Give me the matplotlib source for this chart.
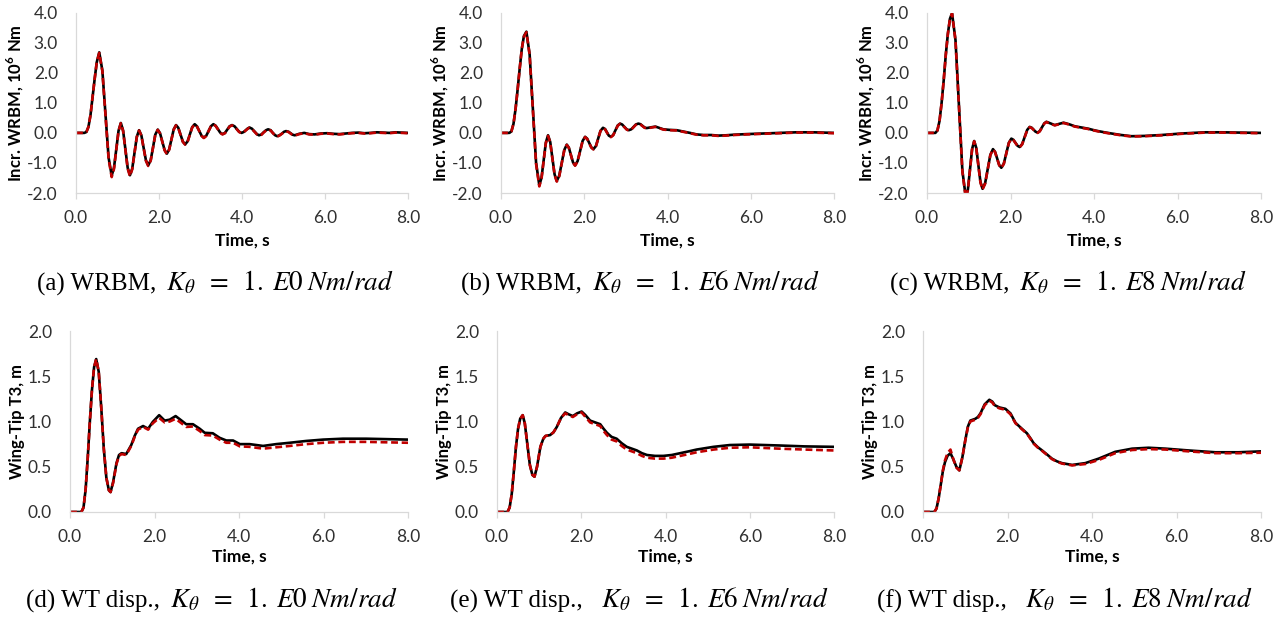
import matplotlib
matplotlib.use("Agg")
import matplotlib.pyplot as plt
from matplotlib.offsetbox import AnnotationBbox, HPacker, TextArea
from matplotlib.ticker import FormatStrFormatter, MultipleLocator

# ---------------- data ----------------

# (a) WRBM, K = 1.E0
TA = [0.0, 0.2, 0.25, 0.3, 0.35, 0.4, 0.45, 0.5, 0.56, 0.635, 0.71, 0.785, 0.86, 0.915, 0.97, 1.025,
      1.08, 1.135, 1.19, 1.245, 1.30, 1.355, 1.41, 1.465, 1.52, 1.575, 1.63, 1.685, 1.74, 1.8, 1.855,
      1.91, 1.97, 2.025, 2.08, 2.135, 2.19, 2.245, 2.3, 2.355, 2.41, 2.465, 2.52, 2.575, 2.63, 2.69,
      2.745, 2.8, 2.86, 2.915, 2.97, 3.025, 3.08, 3.14, 3.195, 3.25, 3.31, 3.365, 3.42, 3.475, 3.53,
      3.59, 3.645, 3.70, 3.76, 3.82, 3.875, 3.93, 3.99, 4.04, 4.09, 4.14, 4.18, 4.24, 4.3, 4.36, 4.41,
      4.47, 4.52, 4.58, 4.63, 4.69, 4.74, 4.8, 4.85, 4.9, 4.96, 5.01, 5.06, 5.12, 5.17, 5.22, 5.27,
      5.38, 5.5, 5.62, 5.75, 5.9, 6.05, 6.2, 6.35, 6.5, 6.65, 6.8, 6.95, 7.1, 7.25, 7.4, 7.55, 7.7,
      7.85, 8.0]
A_BLACK = [0.0, 0.0, 0.03, 0.2, 0.6, 1.2, 1.8, 2.35, 2.68, 2.08, 0.63, -0.82, -1.42, -1.16, -0.55, 0.07,
           0.33, 0.08, -0.54, -1.16, -1.41, -1.19, -0.66, -0.13, 0.09, -0.08, -0.5, -0.91, -1.08, -0.91, -0.49,
           -0.06, 0.11, -0.01, -0.29, -0.57, -0.69, -0.55, -0.215, 0.12, 0.26, 0.17, -0.06, -0.29, -0.38, -0.28,
           -0.045, 0.19, 0.29, 0.22, 0.065, -0.09, -0.16, -0.09, 0.065, 0.22, 0.29, 0.24, 0.125, 0.01, -0.04,
           0.0, 0.11, 0.22, 0.26, 0.22, 0.13, 0.04, 0.0, 0.03, 0.09, 0.15, 0.18, 0.14, 0.05, -0.04, -0.08,
           -0.05, 0.02, 0.09, 0.12, 0.09, 0.005, -0.08, -0.11, -0.08, -0.025, 0.035, 0.06, 0.04, -0.01, -0.06, -0.08,
           -0.03, 0.0, -0.04, -0.05, -0.02, -0.01, -0.03, -0.04, -0.02, 0.0, 0.01, -0.01, 0.0, 0.02, 0.01, 0.0, 0.02,
           0.01, 0.0]
A_RED = [0.0, 0.0, 0.03, 0.2, 0.6, 1.2, 1.8, 2.35, 2.66, 2.06, 0.6, -0.86, -1.47, -1.2, -0.57, 0.06,
         0.32, 0.06, -0.56, -1.19, -1.44, -1.21, -0.67, -0.14, 0.08, -0.09, -0.51, -0.93, -1.1, -0.92, -0.5,
         -0.07, 0.1, -0.02, -0.3, -0.58, -0.71, -0.56, -0.22, 0.11, 0.25, 0.16, -0.07, -0.3, -0.39, -0.29,
         -0.05, 0.18, 0.28, 0.21, 0.06, -0.1, -0.17, -0.1, 0.06, 0.21, 0.28, 0.23, 0.12, 0.0, -0.05,
         -0.01, 0.1, 0.21, 0.25, 0.21, 0.12, 0.03, -0.01, 0.02, 0.08, 0.14, 0.17, 0.13, 0.04, -0.05, -0.09,
         -0.06, 0.01, 0.08, 0.11, 0.08, 0.0, -0.09, -0.12, -0.09, -0.03, 0.03, 0.05, 0.03, -0.02, -0.07, -0.09,
         -0.04, -0.01, -0.05, -0.06, -0.03, -0.02, -0.04, -0.05, -0.03, -0.01, 0.0, -0.02, -0.01, 0.01, 0.0, -0.01,
         0.01, 0.0, -0.01]

# (b) WRBM, K = 1.E6
TB = [0.0, 0.2, 0.25, 0.3, 0.35, 0.4, 0.45, 0.5, 0.55, 0.61, 0.6875, 0.765, 0.8425, 0.92, 0.9725, 1.025,
      1.0775, 1.13, 1.1825, 1.235, 1.2875, 1.34, 1.40, 1.46, 1.52, 1.58, 1.63, 1.68, 1.73, 1.78, 1.84,
      1.90, 1.96, 2.02, 2.07, 2.12, 2.17, 2.22, 2.28, 2.335, 2.39, 2.45, 2.5, 2.545, 2.59, 2.64, 2.695,
      2.75, 2.805, 2.86, 2.91, 2.965, 3.02, 3.07, 3.13, 3.185, 3.24, 3.30, 3.35, 3.40, 3.45, 3.5, 3.6,
      3.71, 3.9, 4.05, 4.22, 4.4, 4.54, 4.7, 4.86, 5.05, 5.22, 5.4, 5.6, 5.9, 6.3, 6.7, 7.1, 7.5, 8.0]
B_BLACK = [0.0, 0.0, 0.05, 0.3, 0.8, 1.45, 2.15, 2.8, 3.22, 3.37, 2.62, 0.82, -0.99, -1.74, -1.50, -0.91,
           -0.32, -0.08, -0.30, -0.84, -1.38, -1.6, -1.42, -0.995, -0.57, -0.39, -0.49, -0.735, -0.98, -1.08, -0.94,
           -0.605, -0.27, -0.13, -0.19, -0.335, -0.48, -0.54, -0.44, -0.185, 0.07, 0.17, 0.13, 0.02, -0.09, -0.13, -0.07,
           0.09, 0.25, 0.31, 0.28, 0.2, 0.12, 0.09, 0.12, 0.2, 0.28, 0.31, 0.29, 0.235, 0.18, 0.16, 0.185,
           0.21, 0.12, 0.1, 0.09, 0.04, 0.0, -0.05, -0.07, -0.07, -0.09, -0.08, -0.06, -0.04, -0.02, 0.0, 0.02, 0.02, 0.0]
B_RED = [0.0, 0.0, 0.05, 0.3, 0.8, 1.45, 2.15, 2.8, 3.2, 3.35, 2.6, 0.78, -1.03, -1.78, -1.53, -0.93,
         -0.34, -0.1, -0.32, -0.86, -1.4, -1.62, -1.44, -1.01, -0.58, -0.4, -0.5, -0.745, -0.99, -1.09, -0.95,
         -0.61, -0.28, -0.14, -0.2, -0.345, -0.49, -0.55, -0.45, -0.19, 0.06, 0.16, 0.12, 0.01, -0.1, -0.14, -0.08,
         0.08, 0.24, 0.3, 0.27, 0.19, 0.11, 0.08, 0.11, 0.19, 0.27, 0.3, 0.28, 0.225, 0.17, 0.15, 0.175,
         0.2, 0.11, 0.09, 0.08, 0.03, -0.01, -0.06, -0.08, -0.08, -0.1, -0.09, -0.07, -0.05, -0.03, -0.01, 0.01, 0.01, -0.01]

# (c) WRBM, K = 1.E8
TC = [0.0, 0.2, 0.25, 0.3, 0.35, 0.4, 0.45, 0.5, 0.55, 0.6, 0.6825, 0.765, 0.8475, 0.93, 0.98, 1.03,
      1.08, 1.13, 1.18, 1.23, 1.28, 1.33, 1.3925, 1.455, 1.5175, 1.58, 1.63, 1.68, 1.73, 1.78, 1.84,
      1.90, 1.96, 2.02, 2.07, 2.12, 2.17, 2.22, 2.28, 2.34, 2.40, 2.46, 2.51, 2.555, 2.60, 2.65, 2.70,
      2.755, 2.81, 2.86, 2.96, 3.06, 3.165, 3.27, 3.4, 3.54, 3.7, 3.86, 4.0, 4.1, 4.25, 4.42, 4.65,
      4.9, 5.22, 5.62, 6.1, 6.66, 7.06, 7.5, 8.0]
C_BLACK = [0.0, 0.0, 0.08, 0.4, 1.0, 1.75, 2.6, 3.3, 3.8, 3.98, 3.09, 0.915, -1.26, -2.15, -1.88, -1.21,
           -0.54, -0.27, -0.5, -1.065, -1.63, -1.86, -1.67, -1.2, -0.73, -0.54, -0.63, -0.85, -1.07, -1.16, -1.02,
           -0.675, -0.33, -0.19, -0.23, -0.33, -0.43, -0.47, -0.37, -0.135, 0.1, 0.2, 0.17, 0.105, 0.04, 0.01, 0.06,
           0.19, 0.32, 0.37, 0.315, 0.26, 0.30, 0.34, 0.29, 0.22, 0.18, 0.14, 0.09, 0.06, 0.02, -0.02, -0.07,
           -0.11, -0.1, -0.07, -0.02, 0.02, 0.02, 0.01, 0.0]
C_RED = [0.0, 0.0, 0.08, 0.4, 1.0, 1.75, 2.6, 3.3, 3.8, 3.97, 3.07, 0.89, -1.29, -2.18, -1.9, -1.22,
         -0.55, -0.28, -0.51, -1.08, -1.65, -1.88, -1.69, -1.21, -0.74, -0.55, -0.64, -0.86, -1.08, -1.17, -1.03,
         -0.68, -0.34, -0.2, -0.24, -0.34, -0.44, -0.48, -0.38, -0.14, 0.09, 0.19, 0.16, 0.1, 0.03, 0.0, 0.05,
         0.18, 0.31, 0.36, 0.305, 0.25, 0.29, 0.33, 0.28, 0.21, 0.17, 0.13, 0.08, 0.05, 0.01, -0.03, -0.08,
         -0.12, -0.11, -0.08, -0.03, 0.01, 0.01, 0.0, -0.01]

# (d) WT disp., K = 1.E0
TD = [0.0, 0.27, 0.32, 0.37, 0.42, 0.47, 0.52, 0.57, 0.62, 0.68, 0.74, 0.80, 0.86, 0.92, 0.96, 1.02,
      1.10, 1.16, 1.22, 1.33, 1.45, 1.53, 1.61, 1.73, 1.85, 1.96, 2.11, 2.24, 2.36, 2.5, 2.64, 2.75,
      2.91, 3.07, 3.19, 3.38, 3.54, 3.70, 3.86, 4.02, 4.25, 4.57, 4.88, 5.2, 5.59, 5.99, 6.46, 7.01,
      7.5, 8.0]
D_BLACK = [0.0, 0.0, 0.05, 0.25, 0.6, 1.0, 1.35, 1.6, 1.69, 1.55, 1.15, 0.7, 0.38, 0.24, 0.22, 0.33,
           0.54, 0.63, 0.65, 0.64, 0.74, 0.84, 0.92, 0.95, 0.92, 0.996, 1.07, 1.01, 1.02, 1.06, 1.01, 0.97,
           0.97, 0.92, 0.875, 0.87, 0.82, 0.79, 0.79, 0.75, 0.75, 0.73, 0.75, 0.765, 0.785, 0.80, 0.81, 0.81,
           0.805, 0.80]
D_RED = [0.0, 0.0, 0.05, 0.25, 0.6, 1.0, 1.35, 1.6, 1.69, 1.55, 1.15, 0.7, 0.38, 0.24, 0.22, 0.32,
         0.53, 0.62, 0.64, 0.63, 0.73, 0.83, 0.91, 0.94, 0.91, 0.98, 1.04, 0.99, 1.0, 1.03, 0.98, 0.94,
         0.945, 0.895, 0.85, 0.845, 0.80, 0.765, 0.765, 0.725, 0.72, 0.70, 0.715, 0.73, 0.75, 0.765, 0.775, 0.775,
         0.77, 0.765]

# (e) WT disp., K = 1.E6
TE = [0.0, 0.25, 0.3, 0.35, 0.40, 0.45, 0.50, 0.55, 0.61, 0.66, 0.72, 0.78, 0.84, 0.89, 0.95, 1.03,
      1.1, 1.15, 1.26, 1.34, 1.42, 1.52, 1.62, 1.7, 1.8, 1.9, 2.01, 2.1, 2.21, 2.33, 2.45, 2.53,
      2.61, 2.72, 2.84, 2.96, 3.08, 3.2, 3.32, 3.44, 3.56, 3.75, 3.95, 4.15, 4.35, 4.55, 4.74, 5.14,
      5.53, 6.0, 6.7, 7.3, 8.0]
E_BLACK = [0.0, 0.0, 0.05, 0.2, 0.45, 0.72, 0.92, 1.03, 1.07, 0.98, 0.75, 0.52, 0.41, 0.39, 0.5, 0.72,
           0.81, 0.84, 0.85, 0.88, 0.94, 1.04, 1.10, 1.08, 1.06, 1.09, 1.11, 1.07, 1.01, 0.99, 0.97, 0.92,
           0.875, 0.83, 0.81, 0.76, 0.72, 0.70, 0.68, 0.65, 0.63, 0.62, 0.62, 0.63, 0.65, 0.67, 0.69, 0.72,
           0.74, 0.745, 0.735, 0.725, 0.72]
E_RED = [0.0, 0.0, 0.05, 0.2, 0.45, 0.72, 0.92, 1.03, 1.07, 0.98, 0.75, 0.52, 0.41, 0.39, 0.5, 0.72,
         0.81, 0.84, 0.85, 0.88, 0.94, 1.04, 1.09, 1.07, 1.05, 1.08, 1.10, 1.05, 0.99, 0.97, 0.95, 0.895,
         0.85, 0.80, 0.78, 0.73, 0.69, 0.67, 0.65, 0.62, 0.60, 0.59, 0.59, 0.60, 0.62, 0.64, 0.66, 0.69,
         0.71, 0.715, 0.70, 0.69, 0.68]

# (f) WT disp., K = 1.E8
TF = [0.0, 0.27, 0.32, 0.37, 0.42, 0.47, 0.52, 0.58, 0.65, 0.72, 0.79, 0.86, 0.93, 1.0, 1.06, 1.12,
      1.24, 1.30, 1.36, 1.46, 1.57, 1.64, 1.70, 1.81, 1.95, 2.07, 2.19, 2.34, 2.46, 2.55, 2.62, 2.72,
      2.82, 2.95, 3.05, 3.17, 3.29, 3.53, 3.84, 4.16, 4.55, 4.95, 5.34, 5.74, 6.29, 6.92, 7.47, 8.0]
F_BLACK = [0.0, 0.0, 0.04, 0.15, 0.3, 0.45, 0.55, 0.62, 0.65, 0.58, 0.5, 0.46, 0.6, 0.79, 0.94, 1.01,
           1.03, 1.05, 1.09, 1.19, 1.24, 1.22, 1.18, 1.155, 1.14, 1.09, 0.985, 0.92, 0.87, 0.81, 0.76, 0.715,
           0.68, 0.63, 0.59, 0.56, 0.54, 0.52, 0.54, 0.59, 0.665, 0.70, 0.71, 0.70, 0.68, 0.66, 0.66, 0.67]
F_RED = [0.0, 0.0, 0.04, 0.15, 0.3, 0.46, 0.57, 0.65, 0.69, 0.58, 0.49, 0.46, 0.6, 0.79, 0.93, 1.0,
         1.02, 1.04, 1.08, 1.18, 1.23, 1.21, 1.17, 1.145, 1.13, 1.08, 0.98, 0.915, 0.865, 0.805, 0.755, 0.71,
         0.675, 0.625, 0.585, 0.555, 0.535, 0.515, 0.53, 0.575, 0.65, 0.685, 0.695, 0.69, 0.67, 0.65, 0.65, 0.655]

# captions: plain (Times) part and math (italic) part
CAPTION_TEXT = ["(a) WRBM,", "(b) WRBM,", "(c) WRBM,", "(d) WT disp.,", "(e) WT disp.,", "(f) WT disp.,"]
CAPTION_MATH = [
    r"$K_\theta\;\;=\;\;1.\;E0\;Nm/rad$",
    r"$K_\theta\;\;=\;\;1.\;E6\;Nm/rad$",
    r"$K_\theta\;\;=\;\;1.\;E8\;Nm/rad$",
    r"$K_\theta\;\;=\;\;1.\;E0\;Nm/rad$",
    r"$K_\theta\;\;=\;\;1.\;E6\;Nm/rad$",
    r"$K_\theta\;\;=\;\;1.\;E8\;Nm/rad$",
]
CAPTION_SEP = [7, 7, 7, 7, 13, 13]
YLABEL_TOP = r"Incr. WRBM, 10$^{\mathbf{6}}$ Nm"
YLABEL_BOTTOM = "Wing-Tip T3, m"
XLABEL = "Time, s"

# ---------------- style ----------------
plt.rcParams["font.family"] = ["Lato", "DejaVu Sans"]
plt.rcParams["mathtext.fontset"] = "custom"
plt.rcParams["mathtext.rm"] = "Lato"
plt.rcParams["mathtext.bf"] = "Lato:bold"

TICK_COLOR = "#303030"
SPINE_COLOR = "#d9d9d9"
BLACK = "#000000"
RED = "#c00000"

fig = plt.figure(figsize=(12.85, 6.18), dpi=100)

# axes boxes in figure pixels: left, right, top, bottom
BOXES = [
    (76, 408, 12.7, 193), (501, 834, 12.7, 193), (927, 1261, 12.7, 193),
    (70, 408, 331, 512), (497, 834, 331, 512), (923, 1261, 331, 512),
]
CAPTION_POS = [(215, 283), (640, 283), (1068, 283), (212, 600), (639, 600), (1065, 600)]

series = [
    (TA, A_BLACK, A_RED), (TB, B_BLACK, B_RED), (TC, C_BLACK, C_RED),
    (TD, D_BLACK, D_RED), (TE, E_BLACK, E_RED), (TF, F_BLACK, F_RED),
]

W, H = 1285.0, 618.0

for i, (t, black, red) in enumerate(series):
    l, r, top, bot = BOXES[i]
    ax = fig.add_axes([l / W, 1 - bot / H, (r - l) / W, (bot - top) / H])
    aw, ah = r - l, bot - top

    ax.plot(t, black, color=BLACK, lw=1.9, solid_joinstyle="round")
    ax.plot(t, red, color=RED, lw=1.9, dashes=(2.6, 1.4))

    ax.set_xlim(0, 8)
    ax.xaxis.set_major_locator(MultipleLocator(2))
    ax.xaxis.set_major_formatter(FormatStrFormatter("%.1f"))
    if i < 3:
        ax.set_ylim(-2, 4)
        ax.yaxis.set_major_locator(MultipleLocator(1))
        ax.set_ylabel(YLABEL_TOP, fontsize=12, fontweight="bold", math_fontfamily="custom")
        ax.yaxis.set_label_coords(-50 / aw, 0.5)
        ax.xaxis.set_label_coords(0.5, (bot - 233) / ah)
    else:
        ax.set_ylim(0, 2)
        ax.yaxis.set_major_locator(MultipleLocator(0.5))
        ax.set_ylabel(YLABEL_BOTTOM, fontsize=12, fontweight="bold")
        ax.yaxis.set_label_coords(-45 / aw, 0.5)
        ax.xaxis.set_label_coords(0.5, (bot - 549) / ah)
    ax.yaxis.set_major_formatter(FormatStrFormatter("%.1f"))
    ax.set_xlabel(XLABEL, fontsize=12.5, fontweight="bold")

    for side in ("top", "right"):
        ax.spines[side].set_visible(False)
    for side in ("left", "bottom"):
        ax.spines[side].set_color(SPINE_COLOR)
        ax.spines[side].set_linewidth(0.9)

    ax.tick_params(axis="y", length=0, pad=13, labelsize=12.5, labelcolor=TICK_COLOR)
    ax.tick_params(axis="x", length=4, width=0.9, color=SPINE_COLOR, pad=8,
                   labelsize=12.5, labelcolor=TICK_COLOR)

    # caption under the panel
    plain = TextArea(CAPTION_TEXT[i], textprops=dict(fontsize=18, family="Liberation Serif"))
    math = TextArea(CAPTION_MATH[i], textprops=dict(fontsize=19.5, family="Liberation Serif",
                                                    math_fontfamily="stix"))
    box = HPacker(children=[plain, math], align="baseline", pad=0, sep=CAPTION_SEP[i])
    cx, cy = CAPTION_POS[i]
    ab = AnnotationBbox(box, (cx, H - cy), xycoords="figure pixels", box_alignment=(0.5, 0.5),
                        frameon=False, pad=0, annotation_clip=False)
    fig.add_artist(ab)

fig.savefig("out.png", dpi=100)
